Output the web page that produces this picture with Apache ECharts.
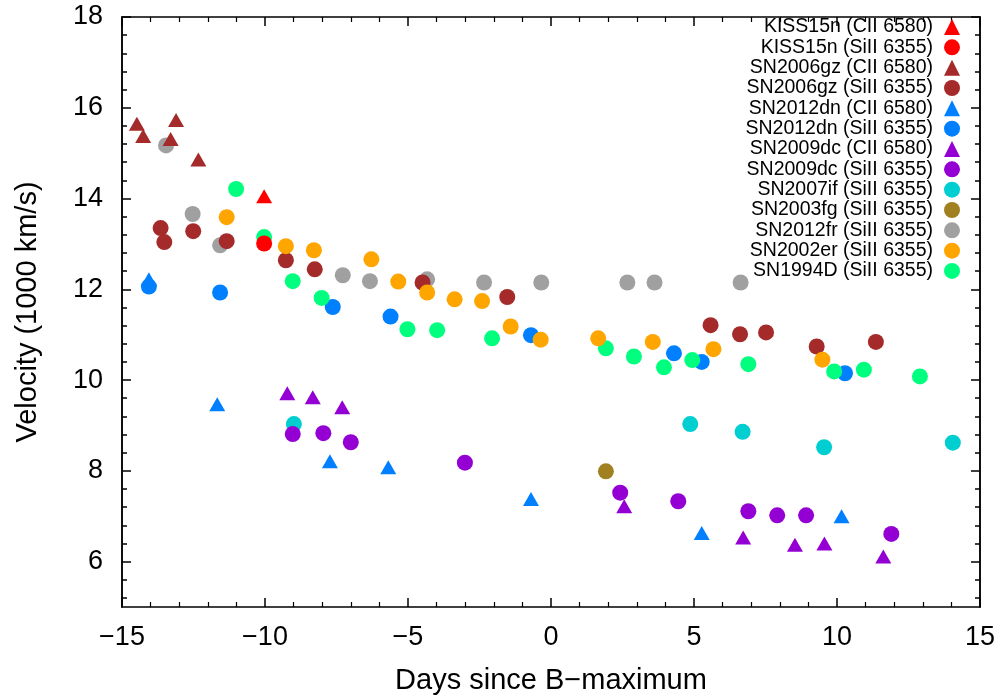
<!DOCTYPE html>
<html><head><meta charset="utf-8">
<script src="https://cdn.jsdelivr.net/npm/echarts@6/dist/echarts.min.js"></script>
<style>html,body{margin:0;padding:0;background:#fff}#c{width:998px;height:700px}</style>
</head><body><div id="c"></div>
<script>
const xTicks = [-15, -10, -5, 0, 5, 10, 15];
const yTicks = [6, 8, 10, 12, 14, 16, 18];
const xTitle = 'Days since B\u2212maximum';
const yTitle = 'Velocity (1000 km/s)';

const KISS15n_CII = [[-10.03, 14.05]];
const KISS15n_SiII = [[-10.03, 13.01]];
const SN2006gz_CII = [[-14.48,15.65],[-14.26,15.38],[-13.30,15.31],[-13.11,15.73],[-12.33,14.86]];
const SN2006gz_SiII = [[-13.65,13.35],[-13.52,13.04],[-12.51,13.28],[-11.34,13.06],[-9.27,12.64],[-8.26,12.44],[-4.49,12.15],[-1.53,11.83],[5.58,11.21],[6.61,11.01],[7.52,11.05],[9.29,10.74],[11.36,10.84]];
const SN2012dn_CII = [[-14.06,12.22],[-11.67,9.47],[-7.73,8.21],[-5.69,8.08],[-0.70,7.38],[5.27,6.63],[10.16,7.00]];
const SN2012dn_SiII = [[-14.06,12.06],[-11.57,11.93],[-7.63,11.61],[-5.61,11.40],[-0.70,10.99],[4.30,10.59],[5.27,10.40],[10.28,10.15]];
const SN2009dc_CII = [[-9.22,9.71],[-8.33,9.62],[-7.30,9.40],[2.56,7.22],[6.72,6.53],[8.53,6.37],[9.56,6.40],[11.62,6.11]];
const SN2009dc_SiII = [[-9.03,8.81],[-7.96,8.83],[-7.00,8.63],[-3.01,8.18],[2.42,7.52],[4.45,7.33],[6.90,7.11],[7.91,7.02],[8.92,7.02],[11.90,6.61]];
const SN2007if_SiII = [[-8.99,9.03],[4.87,9.03],[6.70,8.86],[9.55,8.52],[14.05,8.62]];
const SN2003fg_SiII = [[1.92,7.99]];
const SN2012fr_SiII = [[-13.46,15.17],[-12.53,13.66],[-11.57,12.97],[-7.28,12.31],[-6.33,12.18],[-4.33,12.22],[-2.34,12.15],[-0.34,12.15],[2.67,12.15],[3.62,12.15],[6.63,12.15]];
const SN2002er_SiII = [[-11.34,13.59],[-9.27,12.95],[-8.29,12.86],[-6.28,12.66],[-5.34,12.17],[-4.33,11.93],[-3.37,11.78],[-2.41,11.74],[-1.41,11.18],[-0.36,10.89],[1.65,10.92],[3.56,10.84],[5.68,10.68],[9.49,10.45]];
const SN1994D_SiII = [[-11.01,14.21],[-10.03,13.15],[-9.03,12.18],[-8.02,11.81],[-5.02,11.12],[-3.98,11.10],[-2.06,10.92],[1.92,10.70],[2.90,10.52],[3.95,10.28],[4.94,10.44],[6.90,10.35],[9.90,10.19],[10.94,10.23],[12.90,10.08]];

// legend order
const seriesDefs = [
  {name: 'KISS15n (CII 6580)', data: KISS15n_CII, color: '#ff0000', tri: true},
  {name: 'KISS15n (SiII 6355)', data: KISS15n_SiII, color: '#ff0000'},
  {name: 'SN2006gz (CII 6580)', data: SN2006gz_CII, color: '#a52a2a', tri: true},
  {name: 'SN2006gz (SiII 6355)', data: SN2006gz_SiII, color: '#a52a2a'},
  {name: 'SN2012dn (CII 6580)', data: SN2012dn_CII, color: '#0080ff', tri: true},
  {name: 'SN2012dn (SiII 6355)', data: SN2012dn_SiII, color: '#0080ff'},
  {name: 'SN2009dc (CII 6580)', data: SN2009dc_CII, color: '#9400d3', tri: true},
  {name: 'SN2009dc (SiII 6355)', data: SN2009dc_SiII, color: '#9400d3'},
  {name: 'SN2007if (SiII 6355)', data: SN2007if_SiII, color: '#00ced1'},
  {name: 'SN2003fg (SiII 6355)', data: SN2003fg_SiII, color: '#a08020'},
  {name: 'SN2012fr (SiII 6355)', data: SN2012fr_SiII, color: '#a0a0a0'},
  {name: 'SN2002er (SiII 6355)', data: SN2002er_SiII, color: '#ffa500'},
  {name: 'SN1994D (SiII 6355)', data: SN1994D_SiII, color: '#00ff7f'}
];
// drawing order (later on top)
const drawOrder = [10, 8, 9, 5, 4, 12, 3, 11, 7, 6, 2, 1, 0];

const FONT = 'Liberation Sans';
const minus = v => String(v).replace('-', '\u2212');
const yMinor = [];
for (let i = 0; i < yTicks.length; i++) {
  for (let k = 1; k < 5; k++) {
    const v = +(yTicks[i] - k * 0.4).toFixed(2);
    if (v >= 5 && !yTicks.includes(v)) yMinor.push(v);
  }
}
const axisLine = {show: true, onZero: false, lineStyle: {color: '#000', width: 1.5}};
const xBase = (pos, labels) => ({
  type: 'value', position: pos, min: xTicks[0], max: xTicks[xTicks.length - 1], interval: 5,
  axisLine, splitLine: {show: false},
  axisTick: {show: true, inside: true, length: 9, lineStyle: {color: '#000', width: 1.5}},
  minorTick: {show: true, splitNumber: 5, length: 5, lineStyle: {color: '#000', width: 1.2}},
  axisLabel: {show: labels, color: '#000', fontFamily: FONT, fontSize: 27, margin: 17, formatter: minus},
  name: labels ? xTitle : '', nameLocation: 'middle', nameGap: 59,
  nameTextStyle: {color: '#000', fontFamily: FONT, fontSize: 29}
});
const yBase = (pos, labels, ticks, len, withName) => ({
  type: 'value', position: pos, min: 5, max: 18, interval: 1,
  axisLine, splitLine: {show: false},
  axisTick: {show: true, inside: true, length: len, customValues: ticks, lineStyle: {color: '#000', width: 1.5}},
  axisLabel: {show: labels, customValues: yTicks, color: '#000', fontFamily: FONT, fontSize: 27, margin: 19},
  name: withName ? yTitle : '', nameLocation: 'middle', nameGap: 80, nameRotate: 90,
  nameTextStyle: {color: '#000', fontFamily: FONT, fontSize: 29}
});

const series = drawOrder.map(i => {
  const d = seriesDefs[i];
  return {
    name: d.name, type: 'scatter', data: d.data,
    symbol: d.tri ? 'triangle' : 'circle',
    symbolSize: d.tri ? [16, 14] : 16,
    itemStyle: {color: d.color, opacity: 1},
    xAxisIndex: 0, yAxisIndex: 0, z: 2 + drawOrder.indexOf(i) * 0.01
  };
});

const chart = echarts.init(document.getElementById('c'), null, {renderer: 'canvas'});
chart.setOption({
  animation: false,
  backgroundColor: '#fff',
  grid: {left: 122, right: 18, top: 17, bottom: 91, containLabel: false},
  xAxis: [xBase('bottom', true), xBase('top', false)],
  yAxis: [
    yBase('left', true, yTicks, 9, true),
    yBase('left', false, yMinor, 5, false),
    yBase('right', false, yTicks, 9, false),
    yBase('right', false, yMinor, 5, false)
  ],
  legend: {
    orient: 'vertical', right: 38, top: 17, padding: 0, align: 'right',
    itemWidth: 16, itemHeight: 16, itemGap: 0.33,
    data: seriesDefs.map(d => d.name),
    textStyle: {color: '#000', fontFamily: FONT, fontSize: 19.5, lineHeight: 20, padding: [0, 6, 0, 0]},
    selectedMode: false
  },
  series
});
</script></body></html>
